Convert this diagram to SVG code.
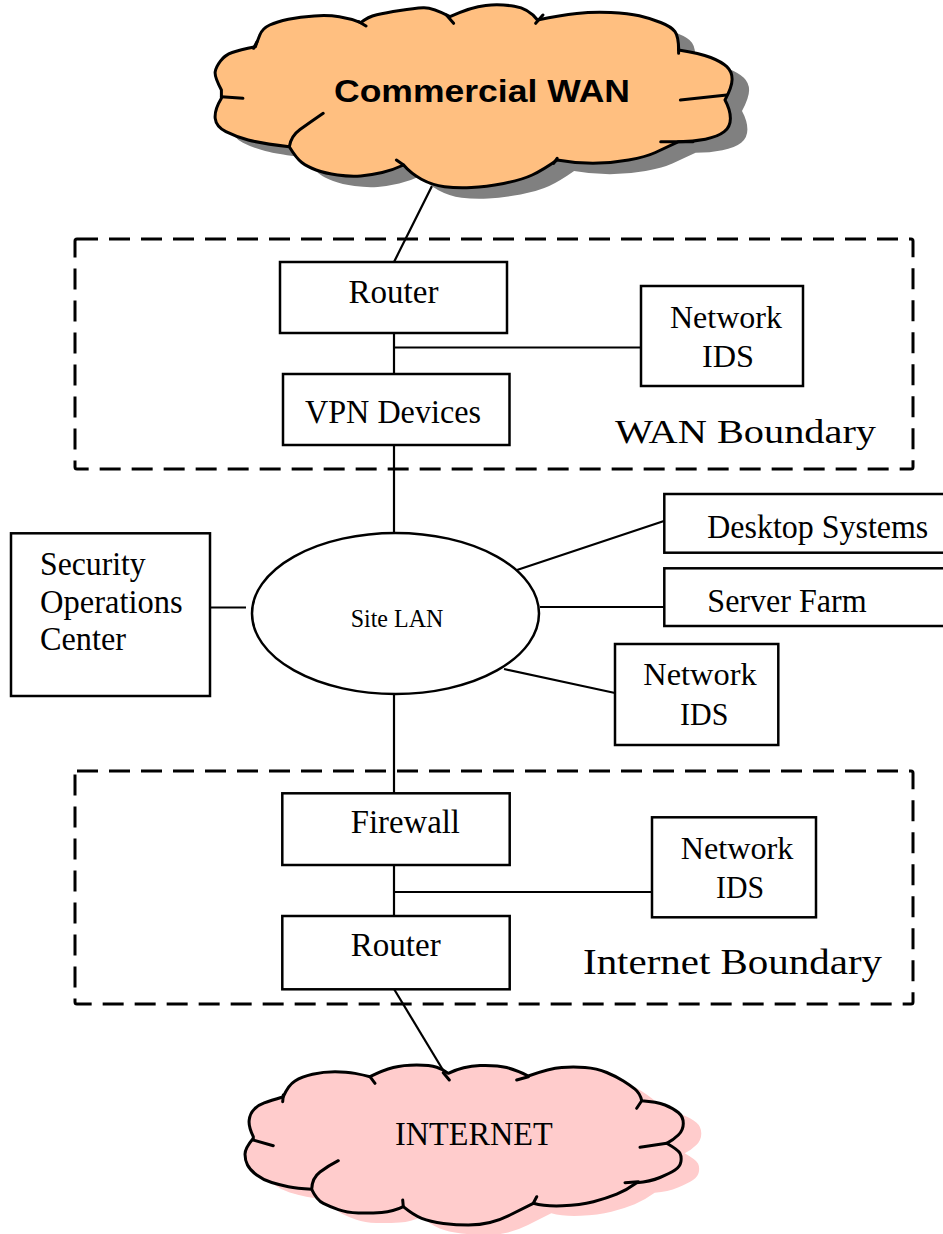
<svg xmlns="http://www.w3.org/2000/svg" width="943" height="1234" viewBox="0 0 943 1234">
  <style>
    .box { fill: #ffffff; stroke: #000000; stroke-width: 2.5; }
    .zone { fill: none; stroke: #000000; stroke-width: 3; stroke-dasharray: 21 11; }
    .wire { fill: none; stroke: #000000; stroke-width: 2.2; }
    .edge { fill: none; stroke: #000000; stroke-width: 3; stroke-linejoin: round; stroke-linecap: round; }
    .lbl { font-family: "Liberation Serif", "Times New Roman", serif; fill: #000000; }
    .bold { font-family: "Liberation Sans", Arial, sans-serif; font-weight: bold; fill: #000000; }
  </style>
  <defs>
    <!-- cloud outlines: one quadratic run per lobe, lobes meet in sharp notches -->
    <path id="wanShape" d="M221.4,98.3
      Q214.3,110 215.2,118.4 Q216.1,126.7 225.9,131.7 Q235.7,136.7 248.2,140 Q260.7,143.3 289.3,146.7
      Q296.4,158.3 301.8,162.5 Q307.1,166.7 316.1,170 Q325,173.3 337.5,175 Q350,176.7 360.7,175.9 Q371.4,175 382.2,172.5 Q392.9,170 403.6,165
      Q410.7,173.3 421.4,179.2 Q432.1,185 444.6,186.7 Q457.1,188.3 471.4,187.5 Q485.7,186.7 503.6,183.4 Q521.4,180 532.2,175 Q542.9,170 557.1,160
      Q575,163.3 592.9,163.3 Q610.7,163.3 628.6,160 Q646.4,156.7 655.4,152.5 Q664.3,148.3 678.6,141.7
      Q692.9,141.7 705.4,139.2 Q717.9,136.7 724.2,131.7 Q730.4,126.7 730.4,118.4 Q730.4,110 725,100
      Q732.1,86.7 732.1,79.2 Q732.1,71.7 726.8,66.7 Q721.4,61.7 710.7,57.5 Q700,53.3 678.6,50
      Q678.6,36.7 675,31.7 Q671.4,26.7 660.7,22.5 Q650,18.3 639.3,15.8 Q628.6,13.3 610.8,12.5 Q592.9,11.7 576.8,13.4 Q560.7,15 537.5,20
      Q528.6,8.3 514.3,6.2 Q500,4 485.7,5.4 Q471.4,6.7 450,16.7
      Q432.1,7.3 423.2,7.8 Q414.3,8.3 400,10.5 Q385.7,12.7 376.8,14.7 Q367.9,16.7 360.7,22.7
      Q350,18.3 339.3,16.7 Q328.6,15 314.3,15.9 Q300,16.7 288.4,19.2 Q276.8,21.7 269.7,25 Q262.5,28.3 259.8,35 Q257.1,41.7 255.4,46.7
      Q239.3,50 232.2,52.5 Q225,55 220.6,60.9 Q216.1,66.7 215.2,71.7 Q214.3,76.7 221.4,90 Z"/>
    <path id="netShape" d="M253.3,1138.3
      Q245,1148.3 245,1154.2 Q245,1160 247.5,1165 Q250,1170 256.7,1175 Q263.3,1180 271.7,1182.5 Q280,1185 288.4,1186.7 Q296.7,1188.3 311.7,1189.3
      Q316.7,1200 323.4,1203.4 Q330,1206.7 338.4,1209.7 Q346.7,1212.7 358.4,1213 Q370,1213.3 381.7,1212.5 Q393.3,1211.7 403.3,1206.7
      Q413.3,1215 421.7,1218.4 Q430,1221.7 443.4,1223.4 Q456.7,1225 468.4,1225 Q480,1225 490,1222.5 Q500,1220 510,1215 Q520,1210 533.3,1203.3
      Q545,1206.5 562.5,1205.8 Q580,1205 593.4,1201.7 Q606.7,1198.3 616.7,1194.2 Q626.7,1190 636.7,1182.7
      Q650,1181.7 660,1177.5 Q670,1173.3 675,1170 Q680,1166.7 680.9,1161.7 Q681.7,1156.7 680,1153.4 Q678.3,1150 666.7,1143.3
      Q673.3,1140 678.3,1135 Q683.3,1130 683.3,1123.4 Q683.3,1116.7 678.3,1112.5 Q673.3,1108.3 665,1105 Q656.7,1101.7 641.7,1100.7
      Q640,1093.3 635,1089.2 Q630,1085 623.4,1080.9 Q616.7,1076.7 606.7,1072.5 Q596.7,1068.3 585,1067.5 Q573.3,1066.7 561.7,1067.5 Q550,1068.3 528.3,1076
      Q516.7,1070 506.7,1067.5 Q496.7,1065 480,1065.5 Q463.3,1066 448.3,1073.3
      Q443.3,1069.3 436.7,1067.2 Q430,1065 416.7,1065 Q403.3,1065 393.3,1067.5 Q383.3,1070 370,1076.7
      Q363.3,1075 355,1073.4 Q346.7,1071.7 335,1071.7 Q323.3,1071.7 312.5,1074.2 Q301.7,1076.7 295,1080.9 Q288.3,1085 283.3,1096.7
      Q270,1100.7 264.2,1102.9 Q258.3,1105 254.2,1109.2 Q250,1113.3 249.2,1120 Q248.3,1126.7 253.3,1136.7 Z"/>
  </defs>

  <!-- boundary zones -->
  <g id="wan-boundary">
    <rect class="zone" x="75" y="239" width="838" height="230" rx="2"/>
    <text class="lbl" x="615" y="443" font-size="34" textLength="261" lengthAdjust="spacingAndGlyphs">WAN Boundary</text>
  </g>
  <g id="internet-boundary">
    <rect class="zone" x="75" y="771" width="838" height="233" rx="2"/>
    <text class="lbl" x="583" y="974" font-size="36" textLength="299" lengthAdjust="spacingAndGlyphs">Internet Boundary</text>
  </g>

  <!-- connectors -->
  <g id="connectors" class="wire">
    <line x1="432" y1="186" x2="394" y2="262"/>
    <line x1="394" y1="333" x2="394" y2="374"/>
    <line x1="394" y1="347.5" x2="641" y2="347.5"/>
    <line x1="394" y1="445" x2="394" y2="533"/>
    <line x1="210" y1="607.5" x2="246" y2="607.5"/>
    <line x1="517" y1="570" x2="664" y2="521"/>
    <line x1="540" y1="607" x2="664" y2="607"/>
    <line x1="504" y1="669" x2="615" y2="693"/>
    <line x1="394" y1="694" x2="394" y2="793"/>
    <line x1="394" y1="865" x2="394" y2="916"/>
    <line x1="394" y1="892" x2="652" y2="892"/>
    <line x1="394" y1="989" x2="449" y2="1080"/>
  </g>

  <!-- Commercial WAN cloud -->
  <g id="commercial-wan">
    <use href="#wanShape" fill="#808080" stroke="none" transform="translate(17,11)"/>
    <use href="#wanShape" fill="#ffbf80" stroke="#000000" stroke-width="3" stroke-linejoin="round"/>
    <path class="edge" d="M221.4,96.7 L242.9,98.3 M257,41.7 L253.6,48.3 M358.9,21.7 L366,26 M446.4,15 L453.6,23.3 M542.9,15 L535.7,23.3 M678.6,46.7 L678.6,53.3 M726.8,95 L680.4,100 M692.9,141.7 L660.7,141.7 M557.1,158.3 L553.6,163.3 M403.6,165 L396.4,160 M289.3,146.7 Q291,136 300,129.5 Q312,121 323.2,113.3"/>
    <text class="bold" x="334" y="101.7" font-size="31" textLength="296" lengthAdjust="spacingAndGlyphs">Commercial WAN</text>
  </g>

  <!-- WAN boundary devices -->
  <g id="wan-router">
    <rect class="box" x="280" y="262" width="227" height="71"/>
    <text class="lbl" x="393.5" y="303" font-size="33" text-anchor="middle">Router</text>
  </g>
  <g id="vpn-devices">
    <rect class="box" x="283" y="374" width="226.5" height="71"/>
    <text class="lbl" x="305" y="423" font-size="33" textLength="176" lengthAdjust="spacingAndGlyphs">VPN Devices</text>
  </g>
  <g id="wan-ids">
    <rect class="box" x="641" y="286" width="162" height="100"/>
    <text class="lbl" x="670" y="328" font-size="32" textLength="112" lengthAdjust="spacingAndGlyphs">Network</text>
    <text class="lbl" x="702" y="366.7" font-size="32" textLength="52" lengthAdjust="spacingAndGlyphs">IDS</text>
  </g>

  <!-- site LAN and attached systems -->
  <g id="site-lan">
    <ellipse cx="395.5" cy="613.5" rx="143.5" ry="80.5" fill="#ffffff" stroke="#000000" stroke-width="2.5"/>
    <text class="lbl" x="350.7" y="626.7" font-size="25" textLength="92.6" lengthAdjust="spacingAndGlyphs">Site LAN</text>
  </g>
  <g id="soc">
    <rect class="box" x="11" y="533.3" width="199" height="162.7"/>
    <text class="lbl" x="40" y="575" font-size="33" textLength="105.7" lengthAdjust="spacingAndGlyphs">Security</text>
    <text class="lbl" x="40" y="613.3" font-size="33" textLength="142.7" lengthAdjust="spacingAndGlyphs">Operations</text>
    <text class="lbl" x="40" y="650" font-size="33" textLength="86" lengthAdjust="spacingAndGlyphs">Center</text>
  </g>
  <g id="desktop-systems">
    <rect class="box" x="664.3" y="494" width="282" height="58.7"/>
    <text class="lbl" x="707.3" y="538.3" font-size="34" textLength="221" lengthAdjust="spacingAndGlyphs">Desktop Systems</text>
  </g>
  <g id="server-farm">
    <rect class="box" x="664.3" y="568.3" width="282" height="57.7"/>
    <text class="lbl" x="707.3" y="611.7" font-size="34" textLength="159.4" lengthAdjust="spacingAndGlyphs">Server Farm</text>
  </g>
  <g id="lan-ids">
    <rect class="box" x="615" y="644" width="163.3" height="101"/>
    <text class="lbl" x="643.3" y="685" font-size="32" textLength="113.4" lengthAdjust="spacingAndGlyphs">Network</text>
    <text class="lbl" x="680" y="725" font-size="32" textLength="48.3" lengthAdjust="spacingAndGlyphs">IDS</text>
  </g>

  <!-- Internet boundary devices -->
  <g id="firewall">
    <rect class="box" x="282.3" y="793.3" width="227.4" height="71.7"/>
    <text class="lbl" x="350.7" y="833.3" font-size="33" textLength="109.3" lengthAdjust="spacingAndGlyphs">Firewall</text>
  </g>
  <g id="internet-router">
    <rect class="box" x="282.3" y="916" width="227.4" height="73.3"/>
    <text class="lbl" x="350.7" y="956" font-size="33" textLength="90" lengthAdjust="spacingAndGlyphs">Router</text>
  </g>
  <g id="internet-ids">
    <rect class="box" x="652" y="817.3" width="164" height="100"/>
    <text class="lbl" x="680.7" y="859.3" font-size="32" textLength="112.6" lengthAdjust="spacingAndGlyphs">Network</text>
    <text class="lbl" x="716" y="898.3" font-size="32" textLength="48" lengthAdjust="spacingAndGlyphs">IDS</text>
  </g>

  <!-- INTERNET cloud -->
  <g id="internet">
    <use href="#netShape" fill="#ffcccc" stroke="none" transform="translate(18,10)"/>
    <use href="#netShape" fill="#ffcccc" stroke="#000000" stroke-width="3" stroke-linejoin="round"/>
    <path class="edge" d="M253.3,1140 L273.3,1145.7 M283.3,1095 L282.7,1101.7 M370,1076.7 L375,1083.3 M443.3,1072.7 L449.3,1080 M528.3,1076.7 L516.7,1080 M641.7,1100.7 L636.7,1108.3 M666.7,1143.3 L640,1147.3 M638.3,1181.7 L625,1182.7 M533.3,1203.3 L536.7,1196.7 M403.3,1206.7 L402.7,1200 M311.7,1189.3 Q312,1178 320,1172 Q328,1166 338.3,1160.7"/>
    <text class="lbl" x="395" y="1145" font-size="33" textLength="157.7" lengthAdjust="spacingAndGlyphs">INTERNET</text>
  </g>
</svg>
